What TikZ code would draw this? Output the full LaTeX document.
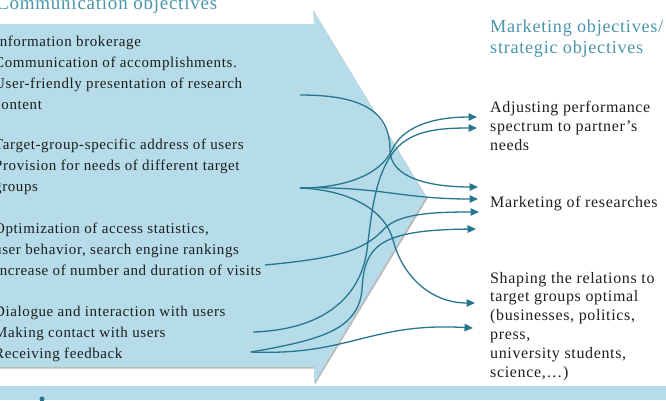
\documentclass[tikz,border=0pt]{standalone}
\usepackage{fontspec}
\setmainfont[LetterSpace=4]{Liberation Serif}
\usetikzlibrary{arrows.meta,positioning,calc}
\definecolor{sky}{RGB}{181,220,232}
\definecolor{stream}{RGB}{38,118,143}
\definecolor{heading}{RGB}{74,150,170}
\definecolor{ink}{RGB}{30,30,30}
\tikzset{
  >={Triangle[length=8.5pt,width=7.5pt]},
  goal/.style={anchor=base west,align=left,inner sep=0pt,text=ink,
    font=\fontsize{15}{20.7}\selectfont},
  aim/.style={goal,font=\fontsize{16}{18.8}\selectfont},
  head/.style={anchor=base west,align=left,inner sep=0pt,text=heading,
    font=\fontsize{18.2}{21}\selectfont},
  link/.style={->,line width=1.3pt,draw=stream},
}
\begin{document}
\begin{tikzpicture}[x=1pt,y=-1pt]
  \useasboundingbox (0,0) rectangle (666,400);
  % big arrow with shadow
  \fill[gray!55] (-2,25.5) -- (315,25.5) -- (314,11.5) -- (427.5,198.5) -- (315,384.5) -- (315,368.5) -- (-2,368.5) -- cycle;
  \fill[sky] (-2,24) -- (314,24) -- (313,10) -- (426,197) -- (314,383) -- (314,367) -- (-2,367) -- cycle;
  \fill[sky] (0,386) rectangle (666,400);
  \fill[stream] (42,399) circle (2.5);

  % headings (base anchor = last line)
  \node[head,font=\fontsize{19}{22}\selectfont] (com) at (-4,9) {Communication objectives};
  \node[head] (mkt) at (490,53) {Marketing objectives/\\strategic objectives};

  % communication objectives
  \node[goal] (info) at (-6,109) {Information brokerage\\Communication of accomplishments.\\User-friendly presentation of research\\content};
  \node[goal] (target) at (-6,191) {Target-group-specific address of users\\Provision for needs of different target\\groups};
  \node[goal] (access) at (-6,275) {Optimization of access statistics,\\user behavior, search engine rankings\\Increase of number and duration of visits};
  \node[goal] (dialog) at (-6,358) {Dialogue and interaction with users\\Making contact with users\\Receiving feedback};

  % marketing objectives
  \node[aim] (adjust) at (490,150) {Adjusting performance\\spectrum to partner’s\\needs};
  \node[aim] (research) at (490,207) {Marketing of researches};
  \node[aim] (shape) at (490,377) {Shaping the relations to\\target groups optimal\\(businesses, politics,\\press,\\university students,\\science,…)};

  % connector ends
  \coordinate (g1) at (300,95);
  \coordinate (g2) at (300,188);
  \coordinate (g3) at (265,265);
  \coordinate (g4) at (253,332);
  \coordinate (g5) at (251,352);
  \coordinate (a1) at (477,117);
  \coordinate (a2) at (477,128);
  \coordinate (m1) at (478,187);
  \coordinate (m2) at (478,199);
  \coordinate (m3) at (479,212);
  \coordinate (m4) at (476,229);
  \coordinate (s1) at (475,303);
  \coordinate (s2) at (473,328);

  \draw[link] (g1) .. controls (360,95) and (390,110) .. (390,150) .. controls (390,178) and (430,187) .. (m1);
  \draw[link] (g2) .. controls (345,188) and (380,175) .. (392,150) .. controls (402,128) and (430,117) .. (a1);
  \draw[link] (g2) .. controls (380,186) and (400,199) .. (m2);
  \draw[link] (g2) .. controls (350,190) and (385,210) .. (393,240) .. controls (402,275) and (430,303) .. (s1);
  \draw[link] (g3) .. controls (340,258) and (365,250) .. (385,228) .. controls (400,214) and (430,212) .. (m3);
  \draw[link] (g4) .. controls (320,330) and (360,300) .. (367,250) .. controls (372,210) and (375,175) .. (395,150) .. controls (412,130) and (440,128) .. (a2);
  \draw[link] (g5) .. controls (320,340) and (358,330) .. (362,290) .. controls (364,245) and (380,230) .. (m4);
  \draw[link] (g5) .. controls (350,356) and (370,322) .. (s2);
\end{tikzpicture}
\end{document}
